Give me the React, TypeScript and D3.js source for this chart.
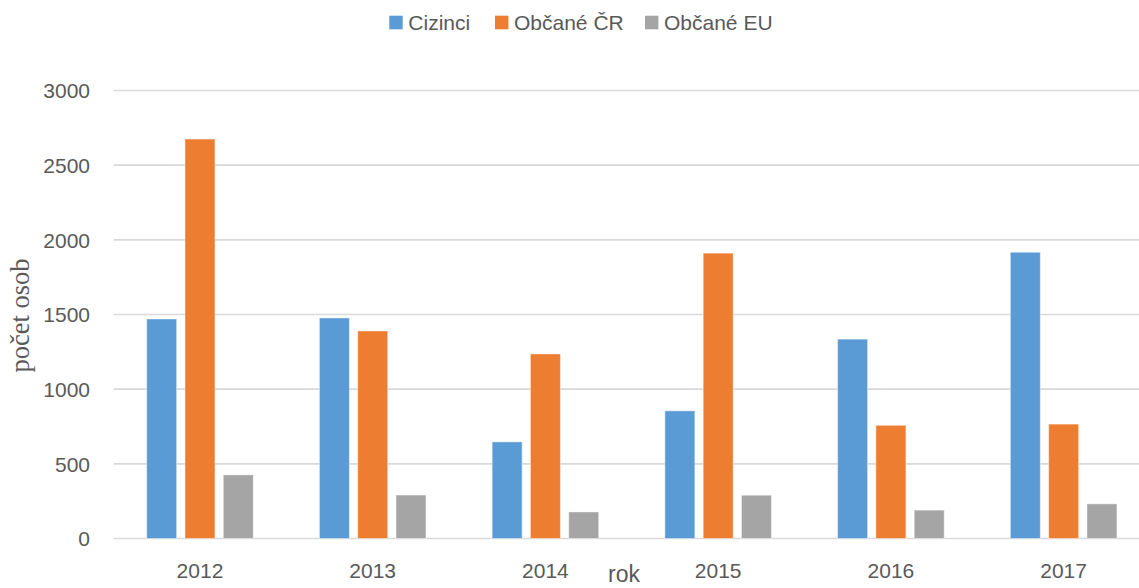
import React from "react";
import * as d3 from "d3";

const years = ["2012", "2013", "2014", "2015", "2016", "2017"];
const seriesNames = ["Cizinci", "Občané ČR", "Občané EU"];
const cizinci = [1470, 1477, 647, 855, 1335, 1917];
const obcaneCR = [2675, 1390, 1236, 1911, 758, 766];
const obcaneEU = [426, 291, 178, 290, 190, 232];
const yTicks = [0, 500, 1000, 1500, 2000, 2500, 3000];
const colors = ["#5B9BD5", "#ED7D31", "#A5A5A5"];

const seriesValues = [cizinci, obcaneCR, obcaneEU];

const W = 1139;
const H = 588;
const plotLeft = 113.6;
const plotRight = 1150;
const plotTop = 90.5;
const plotBottom = 538.5;
const barW = 30;
const sansFont = "'Liberation Sans', Arial, sans-serif";
const serifFont = "'Liberation Serif', 'Times New Roman', serif";
const textColor = "#595959";

export default function App() {
  const x = d3.scaleBand<string>().domain(years).range([plotLeft, plotRight]).padding(0);
  const xs = d3.scalePoint<string>().domain(seriesNames).range([-38.3, 38.3]);
  const y = d3.scaleLinear().domain([0, 3000]).range([plotBottom, plotTop]);

  const legendItems = [
    { name: seriesNames[0], sx: 389.3, tx: 408.3 },
    { name: seriesNames[1], sx: 495, tx: 514 },
    { name: seriesNames[2], sx: 645, tx: 664 },
  ];

  return (
    <svg width={W} height={H} style={{ position: "absolute", left: 0, top: 0, display: "block" }}>
      <rect x={0} y={0} width={W} height={H} fill="#ffffff" />
      {yTicks.map((t) => (
        <line key={"g" + t} x1={plotLeft} x2={plotRight} y1={y(t)} y2={y(t)} stroke="#d9d9d9" strokeWidth={1.6} />
      ))}
      {yTicks.map((t) => (
        <text key={"t" + t} x={90} y={y(t) + 7.8} textAnchor="end" fontFamily={sansFont} fontSize={21} fill={textColor}>
          {t}
        </text>
      ))}
      {seriesNames.map((s, si) =>
        years.map((yr, i) => {
          const cx = (x(yr) as number) + x.bandwidth() / 2 + (xs(s) as number);
          const v = seriesValues[si][i];
          return (
            <rect
              key={s + yr}
              x={cx - barW / 2}
              y={y(v)}
              width={barW}
              height={y(0) - y(v)}
              fill={colors[si]}
              stroke="rgba(255,255,255,0.45)"
              strokeWidth={1}
            />
          );
        })
      )}
      {years.map((yr) => (
        <text key={"x" + yr} x={(x(yr) as number) + x.bandwidth() / 2} y={578} textAnchor="middle" fontFamily={sansFont} fontSize={21} fill={textColor}>
          {yr}
        </text>
      ))}
      <text x={624} y={582} textAnchor="middle" fontFamily={sansFont} fontSize={23} fill={textColor}>
        rok
      </text>
      <text
        transform="translate(29,315.5) rotate(-90)"
        textAnchor="middle"
        fontFamily={serifFont}
        fontSize={26.5}
        fill={textColor}
      >
        počet osob
      </text>
      {legendItems.map((li, i) => (
        <g key={"l" + i}>
          <rect x={li.sx} y={15.7} width={13.4} height={13.6} fill={colors[i]} />
          <text x={li.tx} y={30} fontFamily={sansFont} fontSize={21} fill={textColor}>
            {li.name}
          </text>
        </g>
      ))}
    </svg>
  );
}
